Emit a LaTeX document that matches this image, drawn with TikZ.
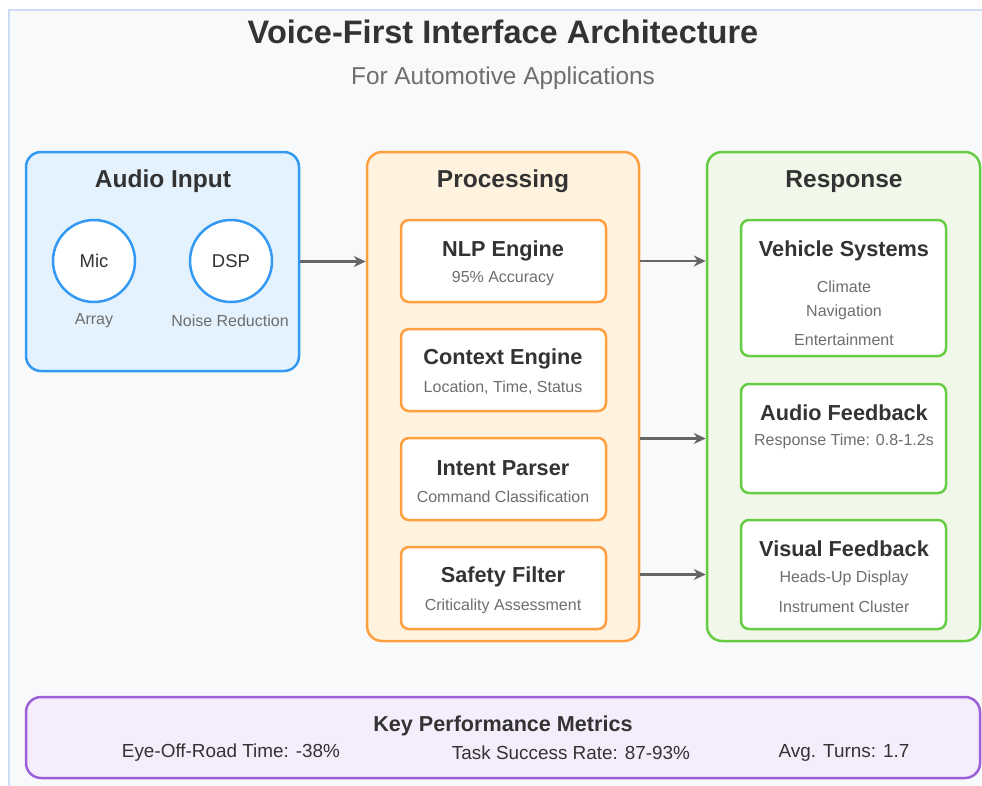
\documentclass[tikz,border=0pt]{standalone}
\usepackage{fontspec}
\setmainfont{Liberation Sans}
\usetikzlibrary{arrows.meta}

\definecolor{pagebg}{HTML}{F8F9FA}
\definecolor{frame}{HTML}{CCDBF6}
\definecolor{ink}{HTML}{333333}
\definecolor{soft}{HTML}{6E6E6E}
\definecolor{blueline}{HTML}{3399F3}
\definecolor{bluefill}{HTML}{E3F2FD}
\definecolor{orangeline}{HTML}{FFA040}
\definecolor{orangefill}{HTML}{FFF3E0}
\definecolor{greenline}{HTML}{66CC44}
\definecolor{greenfill}{HTML}{F1F8E9}
\definecolor{purpleline}{HTML}{9B5FD6}
\definecolor{purplefill}{HTML}{F5EDFC}
\definecolor{wire}{HTML}{666666}

\tikzset{
  group/.style={draw, line width=2.5pt, rounded corners=15pt, inner sep=0pt},
  card/.style={draw, fill=white, line width=2.5pt, rounded corners=8pt, inner sep=0pt,
               minimum width=205pt},
  disc/.style={circle, draw=blueline, fill=white, line width=2.5pt, minimum size=82pt, inner sep=0pt,
               font=\fontsize{18.5}{22}\selectfont, text=ink},
  lower/.style={yshift=-2.5pt},
  heading/.style={lower, font=\fontsize{24.5}{29}\selectfont\bfseries, text=ink},
  cardtitle/.style={lower, font=\fontsize{21.7}{26}\selectfont\bfseries, text=ink},
  note/.style={lower, font=\fontsize{16}{19}\selectfont, text=soft},
  metric/.style={lower, font=\fontsize{18.9}{22}\selectfont, text=ink},
  link/.style={draw=wire, line width=2.5pt, -{Stealth[length=12pt,width=11pt]}},
}

\begin{document}
\begin{tikzpicture}[x=1pt,y=-1pt]
\useasboundingbox (0,0) rectangle (982,785);
\fill[white] (0,0) rectangle (982,785);
\draw[fill=pagebg, draw=frame, line width=2pt] (9,10) rectangle (1000,805);

% titles
\node[font=\fontsize{32.5}{38}\selectfont\bfseries, text=ink] (title) at (503,32) {Voice-First Interface Architecture};
\node[lower, font=\fontsize{24.4}{29}\selectfont, text=soft] (subtitle) at (503,76) {For Automotive Applications};

% three columns
\node[group, draw=blueline, fill=bluefill, minimum width=273pt, minimum height=219pt] (audio) at (162.5,261.5) {};
\node[group, draw=orangeline, fill=orangefill, minimum width=272pt, minimum height=489pt] (proc) at (503,396.5) {};
\node[group, draw=greenline, fill=greenfill, minimum width=273pt, minimum height=489pt] (resp) at (843.5,396.5) {};

\node[heading] (audiot) at (163,179) {Audio Input};
\node[heading] (proct) at (503,179) {Processing};
\node[heading] (respt) at (844,179) {Response};

% audio input
\node[disc] (mic) at (94,261) {Mic};
\node[disc] (dsp) at (231,261) {DSP};
\node[note] (micn) at (94,318) {Array};
\node[note] (dspn) at (230,318) {Noise Reduction};

% processing stages
\node[card, draw=orangeline, minimum height=82pt] (nlp) at (503.5,261) {};
\node[card, draw=orangeline, minimum height=82pt] (ctx) at (503.5,370) {};
\node[card, draw=orangeline, minimum height=82pt] (intent) at (503.5,479) {};
\node[card, draw=orangeline, minimum height=82pt] (safety) at (503.5,588) {};

\node[cardtitle] at (503,248) {NLP Engine};
\node[note] at (503,276) {95\% Accuracy};
\node[cardtitle] at (503,356) {Context Engine};
\node[note] at (503,385) {Location, Time, Status};
\node[cardtitle] at (503,466) {Intent Parser};
\node[note] at (503,494) {Command Classification};
\node[cardtitle] at (503,574) {Safety Filter};
\node[note] at (503,604) {Criticality Assessment};

% responses
\node[card, draw=greenline, minimum height=136pt] (veh) at (843.5,288) {};
\node[card, draw=greenline, minimum height=109pt] (afb) at (843.5,438.5) {};
\node[card, draw=greenline, minimum height=109pt] (vfb) at (843.5,574.5) {};

\node[cardtitle] at (844,248) {Vehicle Systems};
\node[note] at (844,284) {Climate};
\node[note] at (844,310) {Navigation};
\node[note] at (844,337) {Entertainment};
\node[cardtitle] at (844,410) {Audio Feedback};
\node[note] at (844,439) {Response Time: 0.8-1.2s};
\node[cardtitle] at (844,546) {Visual Feedback};
\node[note] at (844,576) {Heads-Up Display};
\node[note] at (844,604) {Instrument Cluster};

% connectors
\draw[link] (audio.east) -- (audio.east -| proc.west);
\draw[link] (proc.east |- nlp) -- (resp.west |- nlp);
\draw[link] (proc.east |- afb) -- (resp.west |- afb);
\draw[link] (proc.east |- vfb) -- (resp.west |- vfb);

% metrics
\node[group, draw=purpleline, fill=purplefill, minimum width=954pt, minimum height=81pt] (kpi) at (503,737.5) {};
\node[lower, font=\fontsize{21.6}{26}\selectfont\bfseries, text=ink] (kpit) at (503,723) {Key Performance Metrics};
\node[metric] (m1) at (231,750) {Eye-Off-Road Time: -38\%};
\node[metric] (m2) at (571,750) {Task Success Rate: 87-93\%};
\node[metric] (m3) at (844,750) {Avg. Turns: 1.7};
\end{tikzpicture}
\end{document}
